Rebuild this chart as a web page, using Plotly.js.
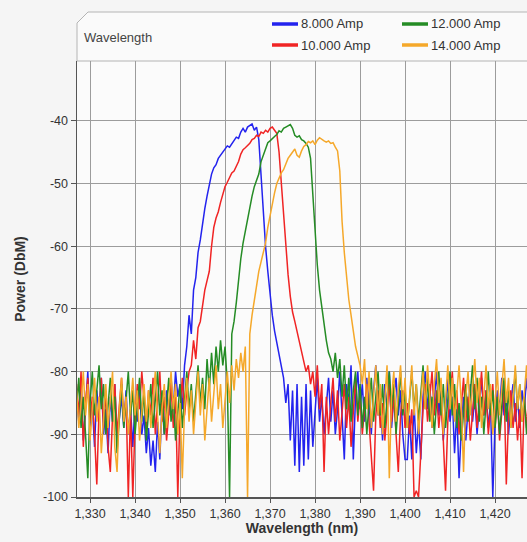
<!DOCTYPE html>
<html>
<head>
<meta charset="utf-8">
<script src="https://cdn.plot.ly/plotly-3.0.1.min.js"></script>
<style>
html,body{margin:0;padding:0;background:#f5f5f5;}
#chart{width:527px;height:542px;}
</style>
</head>
<body>
<div id="chart"></div>
<script>
// Sampling of the spectra (nm)
const wavelengthStart = 1327;
const wavelengthStep = 0.5;

const seriesNames = ["8.000 Amp", "10.000 Amp", "12.000 Amp", "14.000 Amp"];
const seriesColors = ["#2323ee", "#f02424", "#258c25", "#f5a82a"];

// Power (dBm), one value every 0.5 nm from 1327 nm
const amp8 = [
-84,-88,-82,-91,-86,-80,-89,-85,-92,-83,-87,-81,-90,-86,-93,-84,-88,-82,-91,-87,
-84,-89,-83,-90,-86,-92,-85,-88,-82,-90,-87,-93,-89,-95,-91,-96,-88,-94,-85,-90,
-83,-87,-81,-86,-80,-84,-82,-86,-79,-76,-71,-74,-67,-65,-61,-59,-56,-54,-52,-50,
-48.5,-47.5,-47,-46,-45.5,-45,-44.5,-44,-44.2,-43.6,-43,-42.6,-42.8,-41.8,-41.2,-41.8,-41,-40.8,-40.5,-41.5,
-41,-43,-49,-55,-60,-64,-68,-71,-73.5,-75.5,-77,-79,-81,-85,-82,-91,-83,-95,-82,-96,
-84,-95,-82,-94,-83,-92,-86,-81,-88,-84,-90,-85,-81,-88,-83,-90,-86,-80,-87,-94,
-82,-85,-79,-94,-84,-80,-86,-82,-88,-81,-85,-90,-83,-79,-87,-84,-91,-82,-86,-80,
-89,-84,-81,-87,-83,-90,-94,-94,-87,-94,-85,-93,-88,-94,-84,-80,-86,-82,-89,-84,
-80,-87,-83,-91,-85,-81,-88,-84,-93,-86,-97,-89,-84,-91,-86,-82,-88,-84,-90,-85,
-81,-87,-83,-89,-85,-100,-88,-83,-86,-81,-87,-84,-90,-85,-82,-88,-84,-89,-83,-86,
-81,-85,-84
];

const amp10 = [
-82,-87,-80,-92,-85,-81,-88,-84,-90,-98,-86,-81,-89,-83,-92,-96,-87,-82,-90,-85,
-81,-88,-84,-100,-86,-100,-88,-82,-86,-80,-84,-89,-83,-87,-81,-90,-85,-80,-88,-84,
-91,-86,-82,-89,-84,-100,-86,-81,-87,-83,-80,-79,-75,-78,-73,-72,-69,-67,-65.5,-64,
-60,-57,-55.5,-54.5,-53,-51.5,-50.5,-49.8,-49,-48.3,-48,-47.3,-46.5,-45.3,-44.6,-44.3,-44,-43.6,-43,-42.8,
-42.3,-42.5,-41.8,-42,-41.5,-41.8,-41.2,-41,-41.5,-42,-45,-50,-55,-60,-64.5,-68,-70.5,-72,-73.5,-75,
-77,-78.5,-80,-79,-82,-80,-84,-79,-86,-82,-96,-84,-90,-85,-81,-88,-83,-91,-86,-82,
-89,-84,-92,-86,-81,-88,-84,-90,-86,-82,-88,-93,-99,-87,-83,-89,-85,-91,-86,-82,
-88,-84,-90,-96,-87,-83,-89,-85,-90,-86,-100,-99,-100,-92,-86,-82,-88,-84,-80,-87,
-83,-89,-85,-91,-99,-88,-84,-80,-87,-83,-90,-85,-81,-88,-84,-91,-86,-82,-89,-85,
-80,-87,-83,-90,-86,-82,-89,-84,-91,-86,-82,-98,-87,-83,-89,-85,-91,-86,-97,-84,
-89,-83,-87
];

const amp12 = [
-86,-81,-89,-84,-90,-97,-85,-80,-87,-83,-79,-86,-82,-90,-85,-81,-88,-84,-93,-87,
-82,-89,-85,-80,-87,-83,-90,-86,-81,-88,-83,-91,-86,-82,-89,-84,-80,-87,-83,-90,
-85,-81,-88,-84,-91,-86,-82,-89,-84,-80,-86,-82,-88,-83,-79,-85,-81,-86,-78,-83,
-77,-82,-76,-80,-75,-79,-76,-82,-100,-74,-72,-69,-65,-62,-59.5,-57.5,-55.5,-54,-52,-50.5,
-49.5,-48.5,-46.5,-45.5,-44.5,-43.5,-43.2,-42.8,-42.5,-42.2,-41.6,-41.8,-41.2,-41,-40.8,-40.6,-41.2,-42.3,-42.6,-42.4,
-43,-43.2,-43.6,-44.2,-46,-52,-59,-63,-67,-70,-73,-75,-77,-78,-80,-77,-81,-78,-84,-79,
-86,-81,-88,-83,-80,-87,-82,-89,-84,-90,-85,-81,-88,-84,-80,-87,-82,-89,-85,-80,
-86,-82,-90,-84,-80,-87,-83,-89,-84,-80,-86,-82,-88,-83,-79,-86,-81,-88,-84,-90,
-85,-80,-87,-82,-89,-84,-80,-87,-82,-89,-85,-91,-86,-82,-88,-84,-79,-86,-81,-88,
-84,-90,-85,-80,-87,-83,-89,-84,-90,-86,-81,-88,-83,-89,-85,-80,-86,-82,-88,-84,
-90,-85,-81
];

const amp14 = [
-83,-89,-85,-80,-87,-82,-91,-86,-81,-88,-84,-93,-87,-82,-89,-85,-80,-92,-96,-86,
-81,-88,-84,-90,-85,-81,-87,-83,-91,-86,-82,-88,-83,-89,-85,-80,-87,-93,-86,-82,
-89,-84,-80,-86,-82,-90,-85,-97,-86,-81,-88,-83,-90,-85,-80,-87,-82,-91,-86,-81,
-88,-84,-79,-86,-82,-89,-84,-80,-85,-79,-83,-78,-81,-77,-80,-76,-100,-74,-71,-68.5,
-66,-64,-62.5,-61,-59.5,-57,-55,-53.5,-51.5,-50,-49,-48.3,-47.8,-47,-46,-45.5,-45,-44.5,-45.5,-45.8,
-44.8,-44.1,-43.8,-43.3,-43.5,-43.2,-43.8,-43.1,-42.7,-43,-43.2,-43.4,-43.2,-43.6,-43.5,-44.2,-44.8,-48,-56,-61,
-65,-68.5,-71,-74,-76,-77.5,-79,-82,-78,-86,-80,-89,-83,-79,-87,-82,-90,-85,-79,-97,
-84,-80,-88,-83,-79,-86,-81,-89,-84,-79,-87,-82,-90,-85,-80,-86,-79,-84,-89,-82,
-78,-85,-81,-90,-84,-79,-86,-81,-88,-83,-79,-85,-96,-84,-80,-87,-82,-78,-85,-81,
-89,-84,-79,-86,-82,-90,-85,-80,-87,-82,-78,-85,-81,-89,-84,-79,-86,-82,-88,-83,
-79,-86,-82
];

const seriesValues = [amp8, amp10, amp12, amp14];

const xTickStart = 1330, xTickStep = 10;
const yTickValues = [-100, -90, -80, -70, -60, -50, -40];
const yTickLabels = ["-100", "-90", "-80", "-70", "-60", "-50", "-40"];

const FONT = '"Liberation Sans", Arial, sans-serif';

const traces = seriesValues.map((vals, k) => ({
  type: 'scatter', mode: 'lines',
  name: seriesNames[k],
  x0: wavelengthStart, dx: wavelengthStep, y: vals,
  line: {color: seriesColors[k], width: 1.5},
  showlegend: false,
  hoverinfo: 'skip'
}));

// Pixel helpers for header decorations (plot area spans x 77..527, y 61..497)
const PL = 77, PW = 450, PB = 497, PH = 436;
const px = v => (v - PL) / PW;
const py = v => (PB - v) / PH;

const shapes = [{
  type: 'path', xref: 'paper', yref: 'paper', layer: 'below',
  path: `M 0,1 L 0,${py(23)} L ${px(88)},${py(12)} L ${px(540)},${py(12)} L ${px(540)},1 Z`,
  fillcolor: '#fafafa', line: {color: '#b4b4b4', width: 1}
}];
const annotations = [{
  xref: 'paper', yref: 'paper', x: px(82), y: py(37), xanchor: 'left', yanchor: 'middle',
  text: 'Wavelength', showarrow: false, font: {family: FONT, size: 13, color: '#444'}
}];
const legendPos = [[272, 24], [272, 45], [402, 24], [402, 45]];
seriesNames.forEach((nm, k) => {
  const [lx, ly] = legendPos[k];
  shapes.push({
    type: 'line', xref: 'paper', yref: 'paper',
    x0: px(lx), x1: px(lx + 26), y0: py(ly), y1: py(ly),
    line: {color: seriesColors[k], width: 3.5}
  });
  annotations.push({
    xref: 'paper', yref: 'paper', x: px(lx + 27), y: py(ly), xanchor: 'left', yanchor: 'middle',
    text: nm, showarrow: false, font: {family: FONT, size: 13, color: '#333'}
  });
});

const layout = {
  width: 527, height: 542,
  margin: {l: 77, r: 0, t: 61, b: 45, pad: 0},
  paper_bgcolor: '#f5f5f5',
  plot_bgcolor: '#fbfbfb',
  font: {family: FONT, size: 12, color: '#333'},
  showlegend: false,
  xaxis: {
    range: [1327.1, 1427.1],
    tick0: xTickStart, dtick: xTickStep, tickformat: ',d',
    showgrid: true, gridcolor: '#9c9c9c', gridwidth: 1,
    zeroline: false,
    showline: true, linecolor: '#555', linewidth: 1.5,
    ticks: 'outside', ticklen: 4, tickcolor: '#555',
    tickfont: {family: FONT, size: 12.5, color: '#333'},
    title: {text: 'Wavelength (nm)', font: {family: FONT, size: 14, color: '#333', weight: 'bold'}, standoff: 2},
    automargin: false
  },
  yaxis: {
    range: [-100, -30.46],
    tickmode: 'array', tickvals: yTickValues, ticktext: yTickLabels,
    showgrid: true, gridcolor: '#9c9c9c', gridwidth: 1,
    zeroline: false,
    showline: true, linecolor: '#555', linewidth: 1.5,
    ticks: 'outside', ticklen: 5, tickcolor: '#555',
    tickfont: {family: FONT, size: 12.5, color: '#333'},
    title: {text: 'Power (DbM)', font: {family: FONT, size: 14, color: '#333', weight: 'bold'}, standoff: 14},
    automargin: false
  },
  shapes: shapes,
  annotations: annotations
};

Plotly.newPlot('chart', traces, layout, {staticPlot: true, displayModeBar: false});
</script>
</body>
</html>
